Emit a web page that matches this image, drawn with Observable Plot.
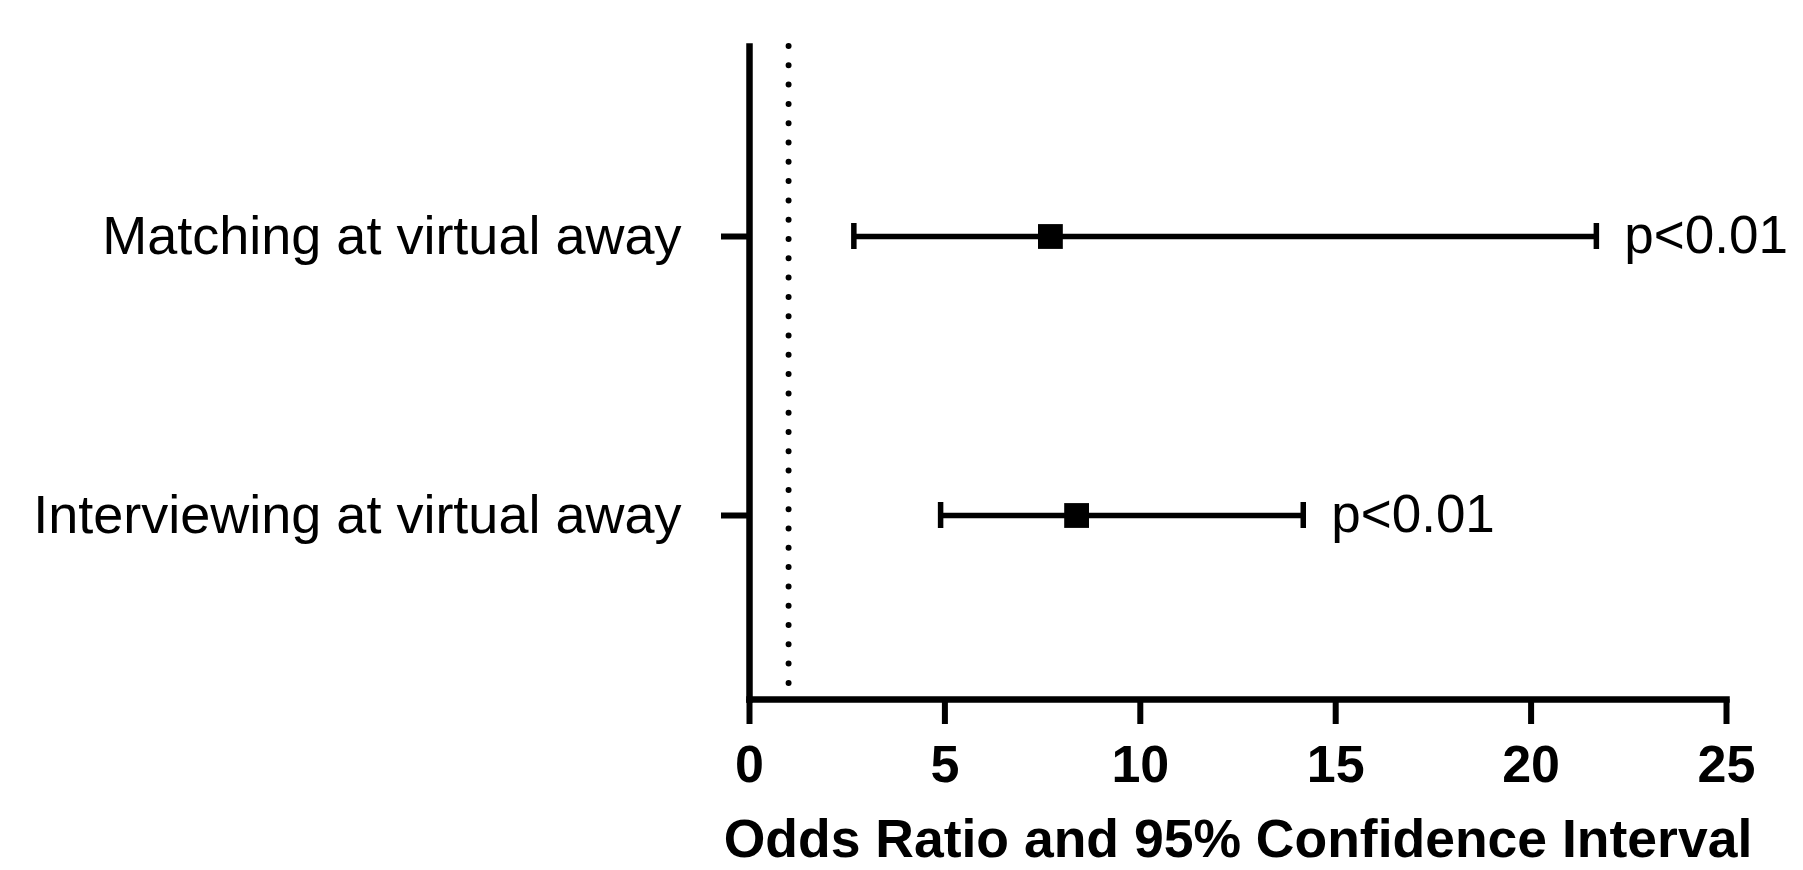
<!DOCTYPE html>
<html><head><meta charset="utf-8">
<script src="https://cdn.jsdelivr.net/npm/d3@7"></script>
<script src="https://cdn.jsdelivr.net/npm/@observablehq/plot@0.6"></script>
<style>body{margin:0;background:#fff}</style>
</head><body><div id="chart"></div>
<script>
const categories = ["Matching at virtual away", "Interviewing at virtual away"];
const oddsRatio = [7.7, 8.37];
const ciLow = [2.67, 4.89];
const ciHigh = [21.67, 14.17];
const pLabels = ["p<0.01", "p<0.01"];
const xTicks = [0, 5, 10, 15, 20, 25];
const xLabel = "Odds Ratio and 95% Confidence Interval";
const refValue = [1];

const rows = categories.map((c, i) => ({name: c, or: oddsRatio[i], lo: ciLow[i], hi: ciHigh[i], p: pLabels[i]}));

const chart = Plot.plot({
  width: 1803, height: 870,
  marginLeft: 749, marginRight: 77, marginTop: 46, marginBottom: 171,
  style: {fontFamily: "'Liberation Sans', Arial, sans-serif", background: "#fff", color: "#000"},
  x: {domain: [0, 25], label: null},
  y: {domain: categories, type: "band", paddingInner: 0.9, paddingOuter: 0.6077, insetTop: 6, label: null},
  marks: [
    Plot.ruleX(refValue, {strokeWidth: 6, strokeDasharray: "0 19.3", strokeLinecap: "round"}),
    Plot.axisX({ticks: xTicks, tickSize: 25, tickPadding: 21, strokeWidth: 6, fontSize: 52, fontWeight: "bold", label: null}),
    Plot.axisY({tickSize: 28, tickPadding: 40, strokeWidth: 6, fontSize: 54, label: null}),
    Plot.ruleY(rows, {y: "name", x1: "lo", x2: "hi", strokeWidth: 5.5}),
    Plot.tickX(rows, {x: "lo", y: "name", strokeWidth: 5.5, insetTop: 1, insetBottom: 1}),
    Plot.tickX(rows, {x: "hi", y: "name", strokeWidth: 5.5, insetTop: 1, insetBottom: 1}),
    Plot.dot(rows, {x: "or", y: "name", symbol: "square", r: 14, fill: "#000", stroke: null}),
    Plot.text(rows, {x: "hi", y: "name", text: "p", textAnchor: "start", dx: 28, fontSize: 53}),
    Plot.frame({anchor: "left", strokeWidth: 6.5, strokeLinecap: "square"}),
    Plot.frame({anchor: "bottom", strokeWidth: 6.5, strokeLinecap: "square"}),
    Plot.text([xLabel], {text: d => d, frameAnchor: "bottom", dy: 157, fontSize: 53.5, fontWeight: "bold"})
  ]
});
document.getElementById("chart").appendChild(chart);
</script>
</body></html>
